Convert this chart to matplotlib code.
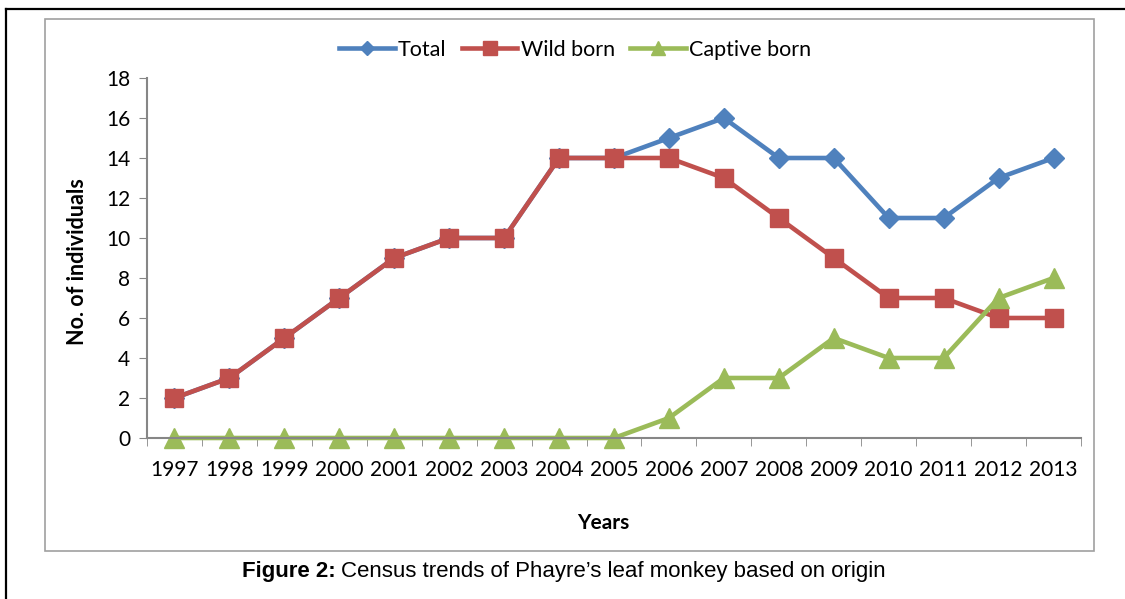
import matplotlib
matplotlib.use("Agg")
import matplotlib.pyplot as plt
from matplotlib.lines import Line2D
from matplotlib.patches import Rectangle
from matplotlib import font_manager

# census counts per year
years = ['1997', '1998', '1999', '2000', '2001', '2002', '2003', '2004', '2005',
         '2006', '2007', '2008', '2009', '2010', '2011', '2012', '2013']
total = [2, 3, 5, 7, 9, 10, 10, 14, 14, 15, 16, 14, 14, 11, 11, 13, 14]
wild_born = [2, 3, 5, 7, 9, 10, 10, 14, 14, 14, 13, 11, 9, 7, 7, 6, 6]
captive_born = [0, 0, 0, 0, 0, 0, 0, 0, 0, 1, 3, 3, 5, 4, 4, 7, 8]

installed = {f.name for f in font_manager.fontManager.ttflist}
body_font = 'Lato' if 'Lato' in installed else 'DejaVu Sans'
cap_font = 'Liberation Sans Narrow' if 'Liberation Sans Narrow' in installed else 'Liberation Sans'
plt.rcParams['font.family'] = body_font

W, H = 1125, 599
fig = plt.figure(figsize=(W / 100, H / 100), dpi=100)

def fx(px):
    return px / W

def fy(py):
    return 1 - py / H

ax = fig.add_axes([fx(147), fy(438), fx(1081) - fx(147), fy(78) - fy(438)])

x = list(range(len(years)))
ax.plot(x, total, color='#4F81BD', lw=3.3, marker='D', ms=10, label='Total', clip_on=False)
ax.plot(x, wild_born, color='#C0504D', lw=3.3, marker='s', ms=13.5, label='Wild born', clip_on=False)
ax.plot(x, captive_born, color='#9BBB59', lw=3.3, marker='^', ms=14, label='Captive born',
        clip_on=False)

ax.set_xlim(-0.5, len(years) - 0.5)
ax.set_ylim(0, 18)
ax.set_yticks(range(0, 19, 2))
ax.set_xticks(x)
ax.set_xticklabels(years)
ax.set_xticks([i - 0.5 for i in range(len(years) + 1)], minor=True)
ax.tick_params(axis='x', which='major', length=0, pad=16, labelsize=15)
ax.tick_params(axis='x', which='minor', length=6, color='#868686', direction='out')
ax.tick_params(axis='y', length=6, color='#868686', pad=6, labelsize=15)

for side in ('top', 'right'):
    ax.spines[side].set_visible(False)
for side in ('left', 'bottom'):
    ax.spines[side].set_color('#868686')
    ax.spines[side].set_linewidth(1.5)
ax.patch.set_alpha(0)

fig.text(fx(603), fy(523), 'Years', ha='center', va='center', fontsize=15, fontweight='bold')
fig.text(fx(78), fy(262), 'No. of individuals', ha='center', va='center',
         rotation=90, fontsize=15.5, fontweight='bold')

fig.legend(loc='center', bbox_to_anchor=(fx(575), fy(50)), ncol=3, frameon=False,
           fontsize=15.5, handlelength=2.6, columnspacing=0.7, handletextpad=0.15,
           markerscale=0.75)

# chart frame and page rules
fig.add_artist(Rectangle((fx(45), fy(551)), fx(1094) - fx(45), fy(19) - fy(551),
                         transform=fig.transFigure, fill=False, ec='#A0A0A0', lw=1.2))
fig.add_artist(Line2D([fx(6), 1], [fy(9), fy(9)], transform=fig.transFigure, color='black', lw=1.6))
fig.add_artist(Line2D([fx(6), fx(6)], [0, fy(9)], transform=fig.transFigure, color='black', lw=1.6))

# caption: bold prefix followed by normal text
renderer = fig.canvas.get_renderer()
t1 = fig.text(fx(242), fy(571), 'Figure 2:', ha='left', va='center', fontsize=16,
              fontweight='bold', family=cap_font)
bb = t1.get_window_extent(renderer)
fig.text(bb.x1 / W + fx(5), fy(571), 'Census trends of Phayre\u2019s leaf monkey based on origin',
         ha='left', va='center', fontsize=16, family=cap_font)

fig.savefig('out.png', dpi=100)
